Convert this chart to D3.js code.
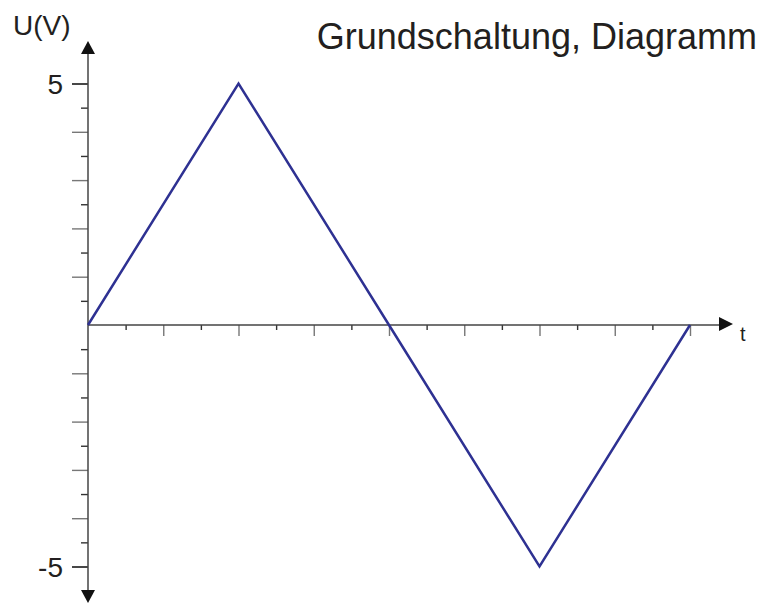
<!DOCTYPE html>
<html>
<head>
<meta charset="utf-8">
<script src="https://cdn.jsdelivr.net/npm/d3@7"></script>
<style>
  body { margin: 0; background: #fff; }
  text { font-family: "Liberation Sans", Arial, sans-serif; fill: #231f20; }
</style>
</head>
<body>
<div id="chart"></div>
<script>
// data
var tValues = [0, 2, 4, 6, 8];
var uValues = [0, 5, 0, -5, 0];
var yLabels = [5, -5];
var xMajor = [1, 2, 3, 4, 5, 6, 7, 8];
var xMinor = [0.5, 1.5, 2.5, 3.5, 4.5, 5.5, 6.5, 7.5];
var yMajor = [-5, -4, -3, -2, -1, 1, 2, 3, 4, 5];
var yMinor = [-4.5, -3.5, -2.5, -1.5, -0.5, 0.5, 1.5, 2.5, 3.5, 4.5];

var svg = d3.select("#chart").append("svg").attr("width", 762).attr("height", 604);

var x = d3.scaleLinear().domain([0, 8]).range([88, 690]);
var y = d3.scaleLinear().domain([-5, 5]).range([566.5, 83.5]);

// ticks
function styleAxis(g, col) {
  g.select(".domain").remove();
  g.selectAll(".tick line").attr("stroke", col).attr("stroke-width", 1.4);
}
svg.append("g").attr("transform", "translate(0," + y(0) + ")")
  .call(d3.axisBottom(x).tickValues(xMajor).tickSize(11).tickFormat(""))
  .call(styleAxis, "#777");
svg.append("g").attr("transform", "translate(0," + y(0) + ")")
  .call(d3.axisBottom(x).tickValues(xMinor).tickSize(5).tickFormat(""))
  .call(styleAxis, "#333");
svg.append("g").attr("transform", "translate(" + x(0) + ",0)")
  .call(d3.axisLeft(y).tickValues(yMajor).tickSize(16).tickFormat(""))
  .call(styleAxis, "#777");
svg.append("g").attr("transform", "translate(" + x(0) + ",0)")
  .call(d3.axisLeft(y).tickValues(yMinor).tickSize(7).tickFormat(""))
  .call(styleAxis, "#333");
svg.append("g").attr("transform", "translate(" + x(0) + ",0)")
  .call(d3.axisLeft(y).tickValues(yLabels).tickSize(16).tickFormat(""))
  .call(styleAxis, "#222");

// axis lines + arrows
var ax = "#444";
svg.append("line").attr("x1", x(0)).attr("x2", 720).attr("y1", y(0)).attr("y2", y(0))
  .attr("stroke", ax).attr("stroke-width", 1.5);
svg.append("line").attr("x1", x(0)).attr("x2", x(0)).attr("y1", 54).attr("y2", 591)
  .attr("stroke", ax).attr("stroke-width", 1.5);
svg.append("path").attr("d", "M719,317 L733,324 L719,331 Z").attr("fill", "#111");
svg.append("path").attr("d", "M81,54 L88,41 L95,54 Z").attr("fill", "#111");
svg.append("path").attr("d", "M81,590 L88,603 L95,590 Z").attr("fill", "#111");

// signal
var line = d3.line().x(function(d, i) { return x(tValues[i]); }).y(function(d) { return y(d); });
svg.append("path").datum(uValues).attr("d", line)
  .attr("fill", "none").attr("stroke", "#2e3192").attr("stroke-width", 2.5)
  .attr("stroke-linejoin", "miter");

// labels
yLabels.forEach(function(v) {
  svg.append("text").attr("x", 63).attr("y", y(v) + 10).attr("text-anchor", "end")
    .style("font-size", "28px").text(v);
});
svg.append("text").attr("x", 13).attr("y", 35).style("font-size", "28px").text("U(V)");
svg.append("text").attr("x", 740).attr("y", 341).style("font-size", "20px").text("t");
svg.append("text").attr("x", 757).attr("y", 49).attr("text-anchor", "end")
  .style("font-size", "36px").text("Grundschaltung, Diagramm");
</script>
</body>
</html>
